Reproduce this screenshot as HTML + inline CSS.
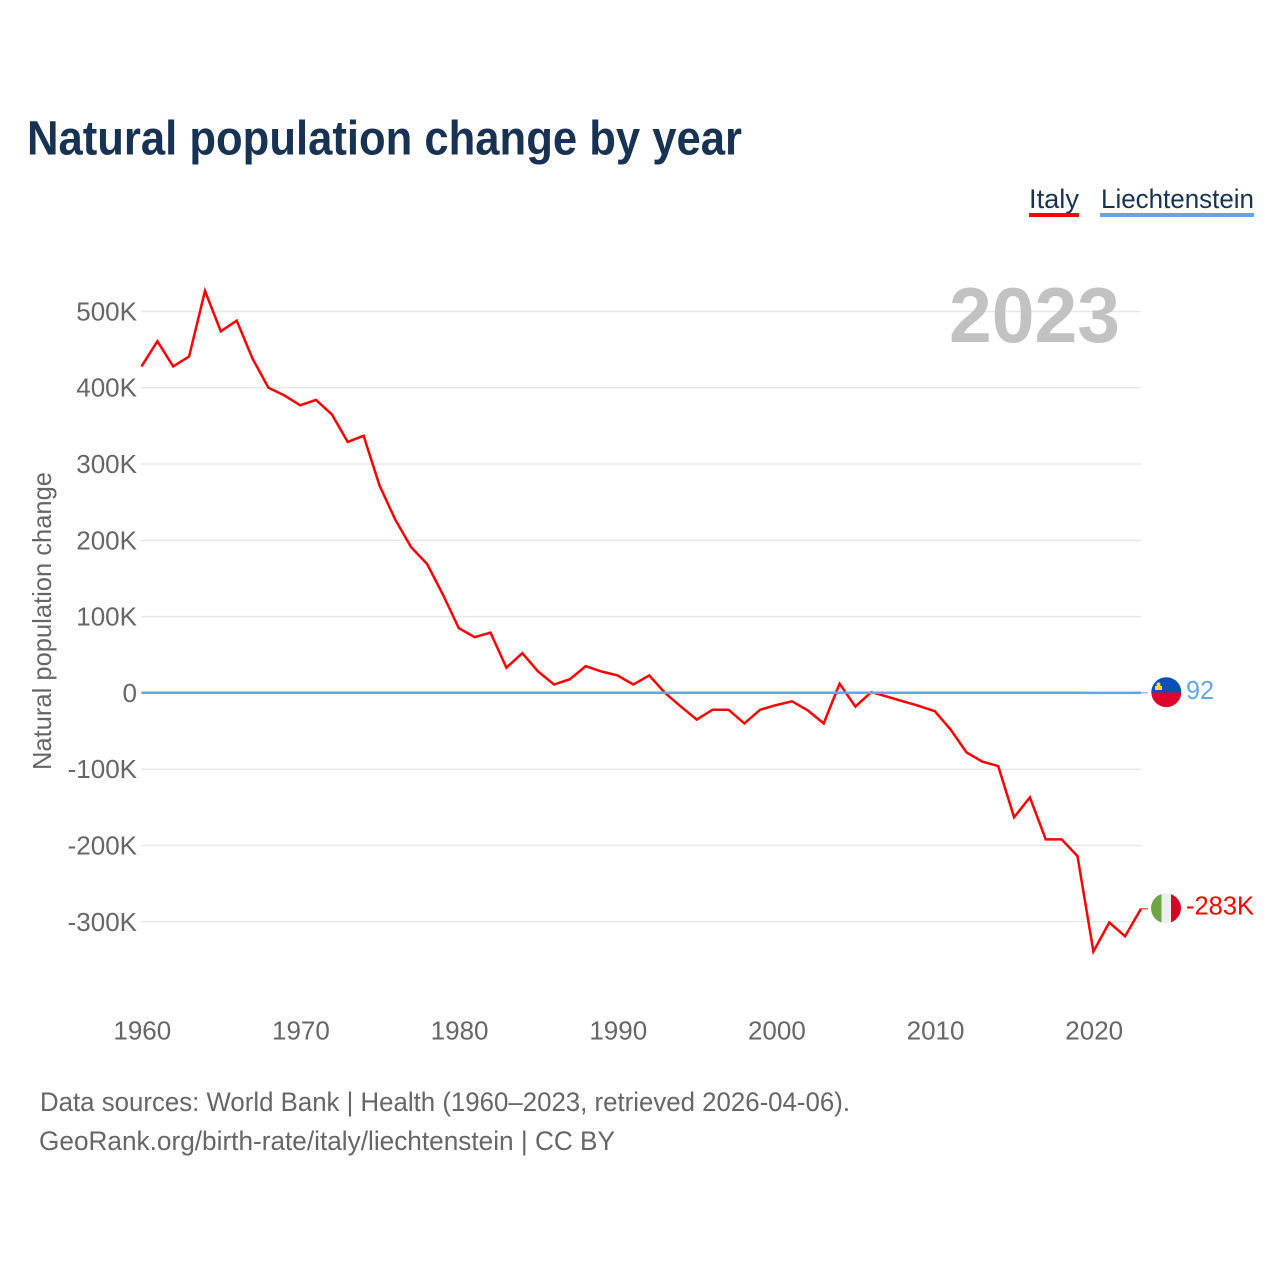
<!DOCTYPE html>
<html lang="en">
<head>
<meta charset="utf-8">
<title>Natural population change by year</title>
<style>
html,body{margin:0;padding:0;background:#fff;width:1280px;height:1280px;overflow:hidden}
svg{display:block}
text{font-family:"Liberation Sans",sans-serif}
</style>
</head>
<body>
<svg id="chart" xmlns="http://www.w3.org/2000/svg" width="1280" height="1280" viewBox="0 0 1280 1280">
  <text x="27" y="154.500" font-size="48" font-weight="700" fill="#173253" textLength="715" lengthAdjust="spacingAndGlyphs">Natural population change by year</text>

  <g>
    <text x="1029" y="208" font-size="27" fill="#173253" textLength="50" lengthAdjust="spacingAndGlyphs">Italy</text>
    <rect x="1029" y="213" width="50" height="4" fill="#ff0000"/>
  </g>
  <g>
    <text x="1101" y="208" font-size="27" fill="#173253" textLength="153" lengthAdjust="spacingAndGlyphs">Liechtenstein</text>
    <rect x="1100" y="213" width="154" height="4" fill="#63a5ea"/>
  </g>

  <g id="grid"></g>
  <g id="yticks"></g>
  <g id="xticks"></g>

  <text x="1120" y="342" font-size="78" font-weight="700" fill="#bfbfbf" fill-opacity="0.95" text-anchor="end" textLength="171" lengthAdjust="spacingAndGlyphs">2023</text>

  <text transform="translate(51,621) rotate(-90)" font-size="26" fill="#666666" text-anchor="middle" textLength="298" lengthAdjust="spacingAndGlyphs">Natural population change</text>

  <g id="series"></g>

  <g>
    <clipPath id="clip-li"><circle cx="1166.300" cy="692.200" r="15"/></clipPath>
    <g clip-path="url(#clip-li)">
      <rect x="1151" y="677" width="31" height="15.500" fill="#0b50b4"/>
      <rect x="1151" y="692.500" width="31" height="15.500" fill="#dc062d"/>
      <rect x="1155" y="686" width="7" height="4" fill="#ffd83d"/>
      <circle cx="1158.500" cy="684.500" r="2" fill="#ffd83d"/>
    </g>
  </g>
  <g>
    <clipPath id="clip-it"><circle cx="1166" cy="908.300" r="15"/></clipPath>
    <g clip-path="url(#clip-it)">
      <rect x="1151" y="893" width="10.500" height="31" fill="#6da544"/>
      <rect x="1161.500" y="893" width="10" height="31" fill="#eeeeee"/>
      <rect x="1171" y="893" width="10" height="31" fill="#d80027"/>
    </g>
  </g>

  <text x="1186" y="699" font-size="26" fill="#63a5ea" textLength="28" lengthAdjust="spacingAndGlyphs">92</text>
  <text x="1186" y="914.500" font-size="26" fill="#ff0000" textLength="68" lengthAdjust="spacingAndGlyphs">-283K</text>

  <text x="40" y="1111" font-size="26.500" fill="#666666" textLength="810" lengthAdjust="spacingAndGlyphs">Data sources: World Bank | Health (1960–2023, retrieved 2026-04-06).</text>
  <a><text x="39" y="1150" font-size="26.500" fill="#666666" textLength="576" lengthAdjust="spacingAndGlyphs">GeoRank.org/birth-rate/italy/liechtenstein | CC BY</text></a>
</svg>
<script>
var startYear = 1960;
var italyValues = [428000,461000,428000,441000,527000,474000,488000,438000,400000,390000,377000,384000,365000,329000,337000,272000,227000,191000,169000,129000,85000,73000,79000,33000,52000,28000,11000,18000,35000,28000,23000,11000,23000,0,-18000,-35000,-22000,-22000,-40000,-22000,-16000,-11000,-23000,-40000,12000,-18000,1000,-5000,-11000,-17000,-24000,-48000,-78000,-90000,-96000,-163000,-137000,-192000,-192000,-214000,-339000,-301000,-319000,-283000];
var liechtensteinValues = [250,240,260,250,270,260,240,230,220,210,200,190,180,170,150,120,130,140,110,120,130,140,130,120,130,120,110,130,140,130,150,160,170,160,150,160,150,140,130,140,150,160,150,120,130,140,120,130,110,100,90,100,110,100,120,90,110,100,90,80,30,60,50,92];
var yTickValues = [500000,400000,300000,200000,100000,0,-100000,-200000,-300000];
var yTickLabels = ["500K","400K","300K","200K","100K","0","-100K","-200K","-300K"];
var xTickYears = [1960,1970,1980,1990,2000,2010,2020];

var svgNS = "http://www.w3.org/2000/svg";
function xScale(year){ return 141.5 + (year - 1960) * (1141 - 141.5) / 63; }
function yScale(v){ return 692.9 - v * 76.29 / 100000; }
function mk(tag, parent, attrs){
  var el = document.createElementNS(svgNS, tag);
  for (var k in attrs) el.setAttribute(k, attrs[k]);
  parent.appendChild(el);
  return el;
}
var grid = document.getElementById("grid");
var yticks = document.getElementById("yticks");
var xticks = document.getElementById("xticks");
var seriesG = document.getElementById("series");

yTickValues.forEach(function(v, i){
  var y = yScale(v);
  var line = mk("line", grid, {x1:141, x2:1141, y1:y, y2:y, stroke:"#e8e8e8", "stroke-width":1.5});
  
  
  var t = mk("text", yticks, {x:137, y:y + 9, "font-size":26, fill:"#666666", "text-anchor":"end"});
  t.textContent = yTickLabels[i];
  
  
});
xTickYears.forEach(function(yr){
  var t = mk("text", xticks, {x:xScale(yr) + 0.8, y:1039.5, "font-size":26, fill:"#666666", "text-anchor":"middle"});
  t.textContent = String(yr);
  
  
});
function linePoints(values){
  return values.map(function(v, i){
    return xScale(startYear + i).toFixed(1) + "," + yScale(v).toFixed(1);
  }).join(" ");
}
var italyLine = mk("polyline", seriesG, {points:linePoints(italyValues), fill:"none", stroke:"#ff0000", "stroke-width":2.5, "stroke-linejoin":"miter"});


var liLine = mk("polyline", seriesG, {points:linePoints(liechtensteinValues), fill:"none", stroke:"#63a5ea", "stroke-width":2.5});



var lastIdx = italyValues.length - 1;
var endX = xScale(startYear + lastIdx);
var itConn = mk("line", seriesG, {x1:endX, x2:endX + 7, y1:yScale(italyValues[lastIdx]), y2:yScale(italyValues[lastIdx]), stroke:"#ff0000", "stroke-width":1.2, opacity:0.8});


var liConn = mk("line", seriesG, {x1:endX, x2:endX + 7, y1:yScale(liechtensteinValues[lastIdx]), y2:yScale(liechtensteinValues[lastIdx]), stroke:"#63a5ea", "stroke-width":1.2, opacity:0.8});


</script>
</body>
</html>
